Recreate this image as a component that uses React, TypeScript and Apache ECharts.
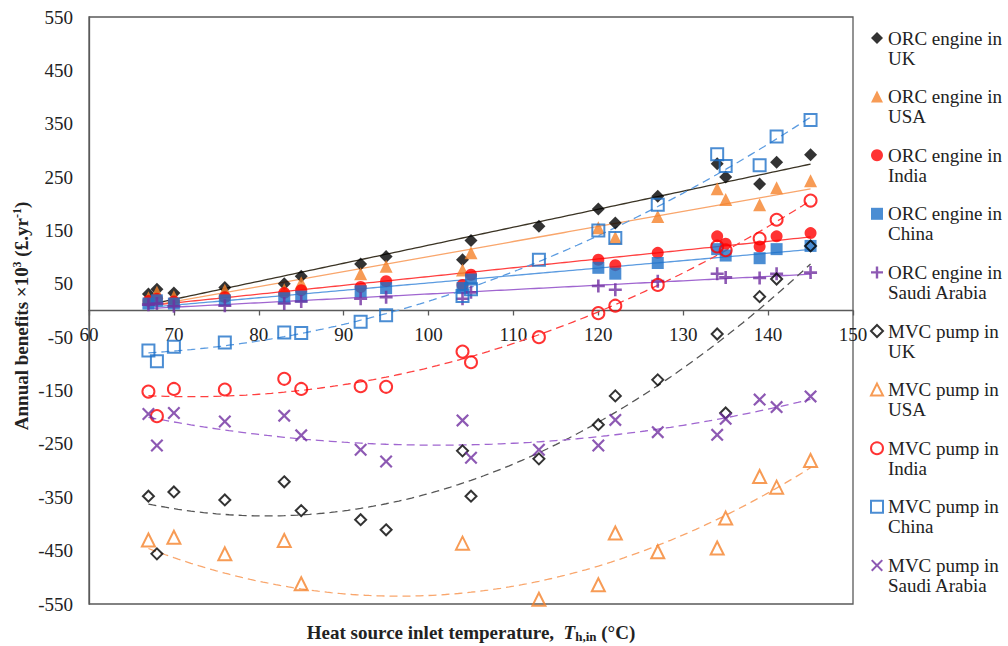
import React, { useEffect, useRef } from 'react';
import * as echarts from 'echarts';

// Heat source inlet temperatures (°C) at which both systems were evaluated
const temperatures = [67, 68, 70, 76, 83, 85, 92, 95, 104, 105, 113, 120, 122, 127, 134, 135, 139, 141, 145];

// Annual benefits ×10³ (£/yr) — ORC engine
const orcUK = [31, 40, 33, 43, 50, 64, 87, 101, 95, 131, 158, 190, 164, 214, 275, 250, 237, 278, 292];
const orcUSA = [24, 34, 26, 38, 39, 52, 69, 83, 76, 108, null, 155, 137, 176, 228, 208, 198, 230, 243];
const orcIndia = [18, 22, 17, 25, 33, 38, 44, 55, 48, 67, null, 95, 85, 108, 139, 125, 120, 139, 145];
const orcChina = [13, 19, 13, 19, 23, 26, 36, 42, 42, 58, null, 80, 69, 89, 115, 103, 98, 115, 121];
const orcSaudi = [11, 13, 8, 9, 13, 17, 22, 25, 22, 34, null, 46, 39, 55, 69, 62, 61, 69, 71];

// Annual benefits ×10³ (£/yr) — MVC pump
// (the USA values at 68, 92, 95 and 105 °C fall below the -550 floor and are clipped)
const mvcUK = [-348, -456, -340, -355, -321, -375, -392, -411, -263, -348, -278, -214, -160, -130, -44, -192, 26, 59, 121];
const mvcUSA = [-430, -565, -425, -456, -431, -512, -565, -585, -436, -580, -541, -514, -417, -452, -445, -389, -311, -331, -281];
const mvcIndia = [-152, -198, -147, -148, -128, -147, -142, -143, -77, -97, -50, -5, 9, 48, 120, 113, 135, 170, 206];
const mvcChina = [-75, -95, -68, -60, -41, -42, -21, -9, 27, 40, 95, 150, 136, 198, 293, 271, 272, 326, 357];
const mvcSaudi = [-194, -253, -192, -208, -197, -234, -261, -283, -206, -276, -261, -253, -205, -228, -233, -203, -167, -181, -161];

const yTickValues = [-550, -450, -350, -250, -150, -50, 50, 150, 250, 350, 450, 550];

const FONT = "'Liberation Serif', 'Times New Roman', serif";

const PLUS = 'path://M4,0H6V4H10V6H6V10H4V6H0V4H4Z';
const CROSS = 'path://M0,1.2L1.2,0L5,3.8L8.8,0L10,1.2L6.2,5L10,8.8L8.8,10L5,6.2L1.2,10L0,8.8L3.8,5Z';

// Plot area in pixels
const GRID_TOP = 17;
const GRID_BOTTOM = 42;
const CHART_H = 646;

type SeriesDef = {
  name: string;
  values: (number | null)[];
  symbol: string;
  size: number;
  color: string;
  trendColor: string;
  open: boolean;
  degree: number;
};

const seriesDefs: SeriesDef[] = [
  { name: 'ORC engine in UK', values: orcUK, symbol: 'diamond', size: 13, color: '#000000', trendColor: '#3b3425', open: false, degree: 1 },
  { name: 'ORC engine in USA', values: orcUSA, symbol: 'triangle', size: 13, color: '#F5822A', trendColor: '#F9A66C', open: false, degree: 1 },
  { name: 'ORC engine in India', values: orcIndia, symbol: 'circle', size: 12, color: '#FF0000', trendColor: '#FF4040', open: false, degree: 1 },
  { name: 'ORC engine in China', values: orcChina, symbol: 'rect', size: 12, color: '#1E70C8', trendColor: '#5B9BE0', open: false, degree: 1 },
  { name: 'ORC engine in Saudi Arabia', values: orcSaudi, symbol: PLUS, size: 13, color: '#7030A0', trendColor: '#A066D0', open: false, degree: 1 },
  { name: 'MVC pump in UK', values: mvcUK, symbol: 'diamond', size: 11, color: '#000000', trendColor: '#555555', open: true, degree: 2 },
  { name: 'MVC pump in USA', values: mvcUSA, symbol: 'triangle', size: 13, color: '#F5822A', trendColor: '#F9A66C', open: true, degree: 2 },
  { name: 'MVC pump in India', values: mvcIndia, symbol: 'circle', size: 12, color: '#FF0000', trendColor: '#FF4040', open: true, degree: 2 },
  { name: 'MVC pump in China', values: mvcChina, symbol: 'rect', size: 12, color: '#1E70C8', trendColor: '#5B9BE0', open: true, degree: 2 },
  { name: 'MVC pump in Saudi Arabia', values: mvcSaudi, symbol: CROSS, size: 13, color: '#7030A0', trendColor: '#A066D0', open: false, degree: 2 },
];

// Least-squares polynomial fit, x centred for numerical stability
function polyFit(xs: number[], ys: number[], degree: number, x0: number): number[] {
  const n = degree + 1;
  const A: number[][] = Array.from({ length: n }, () => new Array(n + 1).fill(0));
  for (let k = 0; k < xs.length; k++) {
    const x = xs[k] - x0;
    for (let i = 0; i < n; i++) {
      for (let j = 0; j < n; j++) A[i][j] += Math.pow(x, i + j);
      A[i][n] += ys[k] * Math.pow(x, i);
    }
  }
  for (let c = 0; c < n; c++) {
    let p = c;
    for (let r = c + 1; r < n; r++) if (Math.abs(A[r][c]) > Math.abs(A[p][c])) p = r;
    [A[c], A[p]] = [A[p], A[c]];
    for (let r = 0; r < n; r++) {
      if (r === c) continue;
      const f = A[r][c] / A[c][c];
      for (let j = c; j <= n; j++) A[r][j] -= f * A[c][j];
    }
  }
  return A.map((row, i) => row[n] / A[i][i]);
}

function pairs(values: (number | null)[]): [number, number][] {
  const out: [number, number][] = [];
  values.forEach((v, i) => {
    if (v !== null) out.push([temperatures[i], v]);
  });
  return out;
}

function trendLine(values: (number | null)[], degree: number): [number, number][] {
  const pts = pairs(values);
  const xs = pts.map((p) => p[0]);
  const ys = pts.map((p) => p[1]);
  const x0 = 100;
  const coef = polyFit(xs, ys, degree, x0);
  const lo = temperatures[0];
  const hi = temperatures[temperatures.length - 1];
  const line: [number, number][] = [];
  for (let x = lo; x <= hi + 1e-9; x += 0.5) {
    let y = 0;
    coef.forEach((c, i) => {
      y += c * Math.pow(x - x0, i);
    });
    line.push([x, y]);
  }
  return line;
}

export default function App() {
  const ref = useRef<HTMLDivElement>(null);

  useEffect(() => {
    if (!ref.current) return;
    const chart = echarts.init(ref.current, undefined, { renderer: 'svg' });

    const scatterSeries = seriesDefs.map((d) => ({
      name: d.name,
      type: 'scatter',
      data: pairs(d.values),
      symbol: d.symbol,
      symbolSize: d.size,
      clip: true,
      z: 3,
      itemStyle: d.open
        ? { color: 'rgba(255,255,255,0)', borderColor: d.color, borderWidth: 2 }
        : { color: d.color, borderWidth: 0 },
      emphasis: { disabled: true },
    }));

    const trendSeries = seriesDefs.map((d) => ({
      name: d.name + ' trend',
      type: 'line',
      data: trendLine(d.values, d.degree),
      showSymbol: false,
      symbol: 'none',
      silent: true,
      clip: true,
      z: 2,
      lineStyle: {
        color: d.trendColor,
        width: 1.3,
        type: d.degree === 1 ? 'solid' : [8, 5],
      },
      emphasis: { disabled: true },
    }));

    // the horizontal axis sits on the zero line, halfway up the plot
    const plotH = CHART_H - GRID_TOP - GRID_BOTTOM;
    const zeroOffset = -plotH / 2;

    chart.setOption({
      animation: false,
      backgroundColor: '#ffffff',
      textStyle: { fontFamily: FONT },
      grid: {
        left: 89,
        top: GRID_TOP,
        right: 155,
        bottom: GRID_BOTTOM,
        show: true,
        borderColor: '#5a5a5a',
        borderWidth: 1.3,
      },
      xAxis: {
        type: 'value',
        min: 60,
        max: 150,
        interval: 10,
        offset: zeroOffset,
        axisLine: { onZero: false, lineStyle: { color: '#5a5a5a', width: 1.3 } },
        axisTick: { show: true, length: 5, lineStyle: { color: '#5a5a5a', width: 1.3 } },
        axisLabel: { fontSize: 19, color: '#222222', fontFamily: FONT, margin: 14 },
        splitLine: { show: false },
      },
      yAxis: {
        type: 'value',
        min: -550,
        max: 550,
        axisLine: { show: true, onZero: false, lineStyle: { color: '#5a5a5a', width: 1.3 } },
        axisTick: { show: false },
        axisLabel: {
          customValues: yTickValues,
          fontSize: 19,
          color: '#222222',
          fontFamily: FONT,
          margin: 16,
        },
        splitLine: { show: false },
      },
      legend: {
        data: seriesDefs.map((d) => d.name),
        orient: 'vertical',
        left: 870,
        top: 8,
        padding: 0,
        itemGap: -1.4,
        itemWidth: 12,
        itemHeight: 12,
        selectedMode: false,
        // leading blank line keeps the marker level with the first text line
        formatter: (name: string) => '\n' + name.replace(' in ', ' in\n'),
        textStyle: {
          fontSize: 19,
          lineHeight: 20,
          color: '#222222',
          fontFamily: FONT,
        },
      },
      graphic: [
        {
          type: 'text',
          x: 471,
          y: 632,
          style: {
            text: '{b|Heat source inlet temperature,  }{i|T}{s|h,in}{b| (°C)}',
            align: 'center',
            verticalAlign: 'middle',
            fill: '#222222',
            rich: {
              b: { fontSize: 19, fontWeight: 'bold', fontFamily: FONT, fill: '#222222' },
              i: { fontSize: 19, fontWeight: 'bold', fontStyle: 'italic', fontFamily: FONT, fill: '#222222' },
              s: { fontSize: 13, fontWeight: 'bold', fontFamily: FONT, fill: '#222222', verticalAlign: 'bottom', padding: [8, 0, 0, 0] },
            },
          },
        },
        {
          type: 'text',
          x: 21,
          y: 316,
          rotation: Math.PI / 2,
          style: {
            text: '{b|Annual benefits ×10}{p|3}{b| (£.yr}{p|-1}{b|)}',
            align: 'center',
            verticalAlign: 'middle',
            fill: '#222222',
            rich: {
              b: { fontSize: 19, fontWeight: 'bold', fontFamily: FONT, fill: '#222222' },
              p: { fontSize: 12, fontWeight: 'bold', fontFamily: FONT, fill: '#222222', verticalAlign: 'top', padding: [0, 0, 8, 0] },
            },
          },
        },
      ],
      series: [...trendSeries, ...scatterSeries],
    });

    return () => {
      chart.dispose();
    };
  }, []);

  return (
    <div
      ref={ref}
      style={{ position: 'fixed', left: 0, top: 0, width: 1008, height: 646, background: '#ffffff' }}
    />
  );
}
